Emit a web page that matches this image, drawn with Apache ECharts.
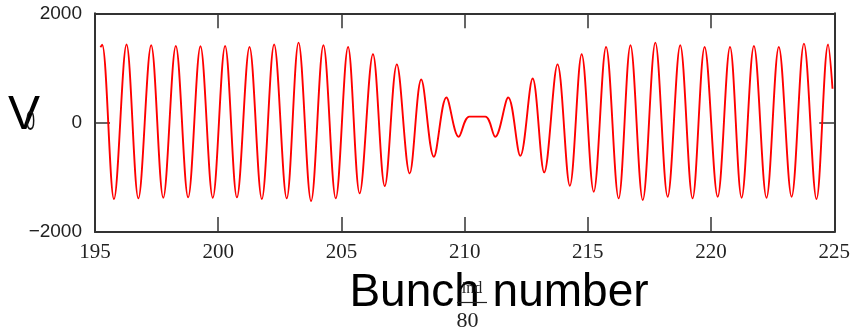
<!DOCTYPE html>
<html>
<head>
<meta charset="utf-8">
<script src="https://cdn.jsdelivr.net/npm/echarts@6/dist/echarts.min.js"></script>
<style>
  html, body { margin: 0; padding: 0; background: #ffffff; }
  #chart { width: 853px; height: 333px; }
</style>
</head>
<body>
<div id="chart"></div>
<script>
// Bunch number (ind/80) at each turning point of the beating signal
const bunchNumber = [
  195.22, 195.29, 195.77, 196.28, 196.76, 197.28, 197.77, 198.28, 198.78, 199.28,
  199.78, 200.28, 200.76, 201.27, 201.77, 202.27, 202.78, 203.26, 203.77, 204.27,
  204.77, 205.27, 205.74, 206.28, 206.76, 207.25, 207.77, 208.24, 208.75, 209.26,
  209.76, 210.19, 210.84, 211.24, 211.77, 212.26, 212.76, 213.23, 213.77, 214.27,
  214.75, 215.24, 215.74, 216.25, 216.73, 217.23, 217.74, 218.24, 218.75, 219.25,
  219.74, 220.27, 220.77, 221.24, 221.74, 222.25, 222.75, 223.27, 223.77, 224.28,
  224.75, 224.93
];

// Voltage (V) at those points
const voltage = [
  1380, 1425, -1397, 1428, -1385, 1416, -1373, 1403, -1367, 1397,
  -1373, 1403, -1367, 1385, -1397, 1428, -1385, 1464, -1434, 1416,
  -1385, 1385, -1294, 1251, -1160, 1065, -928, 788, -624, 460,
  -259, 110, 110, -259, 460, -606, 807, -910, 1065, -1154,
  1251, -1263, 1385, -1385, 1416, -1416, 1464, -1355, 1416, -1385,
  1385, -1355, 1385, -1373, 1403, -1373, 1385, -1355, 1446, -1397,
  1428, 620
];

// Axis tick values
const xTickValues = [195, 200, 205, 210, 215, 220, 225];
const yTickValues = [-2000, 0, 2000];

const frameColor = '#333333';
const xMin = xTickValues[0], xMax = xTickValues[xTickValues.length - 1];
const xStep = xTickValues[1] - xTickValues[0];
const yMin = yTickValues[0], yMax = yTickValues[yTickValues.length - 1];
const yStep = yTickValues[1] - yTickValues[0];

function boxAxis(extra) {
  return Object.assign({
    type: 'value',
    axisLine: { show: true, onZero: false, lineStyle: { color: frameColor, width: 2 } },
    axisTick: { show: true, inside: true, length: 15, lineStyle: { color: frameColor, width: 1.5 } },
    splitLine: { show: false }
  }, extra);
}

const chart = echarts.init(document.getElementById('chart'), null, { renderer: 'canvas' });

chart.setOption({
  animation: false,
  backgroundColor: '#ffffff',
  grid: { left: 95, right: 18, top: 13.3, bottom: 101, containLabel: false },
  xAxis: [
    boxAxis({
      position: 'bottom', min: xMin, max: xMax, interval: xStep,
      axisLabel: { fontFamily: 'Liberation Serif', fontSize: 21, color: '#222222', margin: 10 }
    }),
    boxAxis({
      position: 'top', min: xMin, max: xMax, interval: xStep,
      axisLabel: { show: false }
    })
  ],
  yAxis: [
    boxAxis({
      position: 'left', min: yMin, max: yMax, interval: yStep,
      axisLabel: {
        fontFamily: 'Liberation Sans', fontSize: 19, color: '#222222', margin: 13,
        formatter: v => (v < 0 ? '\u2212' + Math.abs(v) : String(v))
      }
    }),
    boxAxis({
      position: 'right', min: yMin, max: yMax, interval: yStep,
      axisLabel: { show: false }
    })
  ],
  series: [{
    type: 'line',
    xAxisIndex: 0,
    yAxisIndex: 0,
    data: bunchNumber.map((b, i) => [b, voltage[i]]),
    showSymbol: false,
    smooth: 0.35,
    lineStyle: { color: '#ff0000', width: 1.9 },
    z: 1
  }],
  graphic: [
    {
      type: 'text', x: 24, y: 116,
      style: { text: 'V', font: '48px "Liberation Sans"', fill: '#000000', textAlign: 'center', textVerticalAlign: 'middle' }
    },
    {
      type: 'text', x: 30.5, y: 122, scaleX: 0.6,
      style: { text: '0', font: '28px "Liberation Sans"', fill: '#111111', textAlign: 'center', textVerticalAlign: 'middle' }
    },
    {
      type: 'text', x: 499, y: 293.5,
      style: { text: 'Bunch number', font: '46px "Liberation Sans"', fill: '#000000', textAlign: 'center', textVerticalAlign: 'middle' }
    },
    {
      type: 'text', x: 472, y: 289,
      style: { text: 'ind', font: '16px "Liberation Serif"', fill: '#222222', textAlign: 'center', textVerticalAlign: 'middle' }
    },
    {
      type: 'line',
      shape: { x1: 457, y1: 302.5, x2: 487, y2: 302.5 },
      style: { stroke: '#222222', lineWidth: 1.2 }
    },
    {
      type: 'text', x: 467.5, y: 321.5,
      style: { text: '80', font: '22px "Liberation Serif"', fill: '#222222', textAlign: 'center', textVerticalAlign: 'middle' }
    }
  ]
});
</script>
</body>
</html>
